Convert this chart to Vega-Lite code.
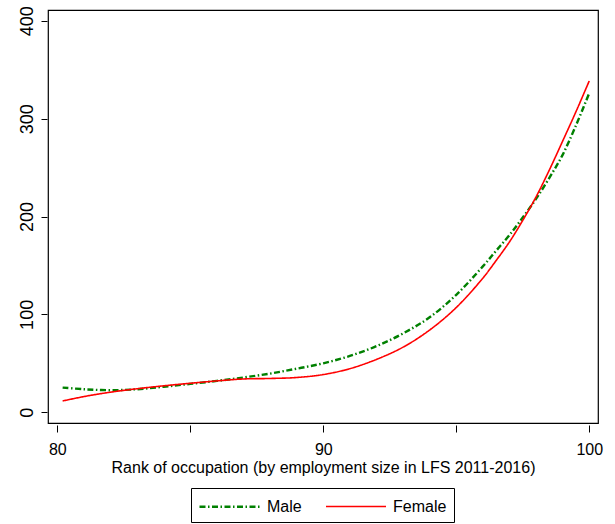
{
  "$schema": "https://vega.github.io/schema/vega-lite/v6.json",
  "width": 550,
  "height": 413,
  "autosize": {"type": "none"},
  "padding": {"left": 48, "top": 10, "right": 17, "bottom": 101},
  "background": "white",
  "config": {
    "font": "Liberation Sans",
    "view": {"stroke": "black", "strokeWidth": 1.2},
    "axis": {"grid": false, "domain": false, "tickColor": "black", "labelColor": "black", "titleColor": "black", "labelFont": "Liberation Sans", "titleFont": "Liberation Sans", "titleFontWeight": "normal"}
  },
  "data": {
    "values": [
      {"rank": 80.2, "value": 25.2, "sex": "Male"},
      {"rank": 81, "value": 23.5, "sex": "Male"},
      {"rank": 82, "value": 22.5, "sex": "Male"},
      {"rank": 83, "value": 23.5, "sex": "Male"},
      {"rank": 84, "value": 26, "sex": "Male"},
      {"rank": 85, "value": 29, "sex": "Male"},
      {"rank": 86, "value": 32, "sex": "Male"},
      {"rank": 87, "value": 35.5, "sex": "Male"},
      {"rank": 88, "value": 39.5, "sex": "Male"},
      {"rank": 89, "value": 44.5, "sex": "Male"},
      {"rank": 90, "value": 50, "sex": "Male"},
      {"rank": 91, "value": 57.5, "sex": "Male"},
      {"rank": 92, "value": 67.5, "sex": "Male"},
      {"rank": 93, "value": 80.5, "sex": "Male"},
      {"rank": 94, "value": 97, "sex": "Male"},
      {"rank": 95, "value": 120, "sex": "Male"},
      {"rank": 96, "value": 149, "sex": "Male"},
      {"rank": 96.5, "value": 165, "sex": "Male"},
      {"rank": 97, "value": 181, "sex": "Male"},
      {"rank": 97.5, "value": 199, "sex": "Male"},
      {"rank": 98, "value": 218, "sex": "Male"},
      {"rank": 98.5, "value": 239.5, "sex": "Male"},
      {"rank": 99, "value": 263, "sex": "Male"},
      {"rank": 99.5, "value": 293, "sex": "Male"},
      {"rank": 100, "value": 326, "sex": "Male"},
      {"rank": 80.2, "value": 11.5, "sex": "Female"},
      {"rank": 81, "value": 16, "sex": "Female"},
      {"rank": 82, "value": 20.5, "sex": "Female"},
      {"rank": 83, "value": 24, "sex": "Female"},
      {"rank": 84, "value": 27, "sex": "Female"},
      {"rank": 85, "value": 29.6, "sex": "Female"},
      {"rank": 86, "value": 32, "sex": "Female"},
      {"rank": 87, "value": 34, "sex": "Female"},
      {"rank": 88, "value": 34.5, "sex": "Female"},
      {"rank": 89, "value": 35.5, "sex": "Female"},
      {"rank": 90, "value": 38.5, "sex": "Female"},
      {"rank": 91, "value": 44.5, "sex": "Female"},
      {"rank": 92, "value": 54, "sex": "Female"},
      {"rank": 93, "value": 66.5, "sex": "Female"},
      {"rank": 94, "value": 84, "sex": "Female"},
      {"rank": 95, "value": 107, "sex": "Female"},
      {"rank": 96, "value": 137, "sex": "Female"},
      {"rank": 96.5, "value": 155, "sex": "Female"},
      {"rank": 97, "value": 174, "sex": "Female"},
      {"rank": 97.5, "value": 196, "sex": "Female"},
      {"rank": 98, "value": 220, "sex": "Female"},
      {"rank": 98.5, "value": 247.5, "sex": "Female"},
      {"rank": 99, "value": 277, "sex": "Female"},
      {"rank": 99.5, "value": 307, "sex": "Female"},
      {"rank": 100, "value": 338.5, "sex": "Female"}
    ]
  },
  "mark": {"type": "line", "interpolate": "catmull-rom", "clip": true},
  "encoding": {
    "x": {
      "field": "rank", "type": "quantitative",
      "scale": {"domain": [79.65, 100.33], "nice": false, "zero": false},
      "axis": {
        "title": "Rank of occupation (by employment size in LFS 2011-2016)",
        "values": [80, 85, 90, 95, 100],
        "labelExpr": "datum.value % 10 === 0 ? datum.label : ''",
        "offset": 2, "tickSize": 7, "labelPadding": 9, "labelFontSize": 16,
        "titleFontSize": 16, "titlePadding": 2, "labelFlush": false
      }
    },
    "y": {
      "field": "value", "type": "quantitative",
      "scale": {"domain": [-11, 411], "nice": false, "zero": false},
      "axis": {
        "title": null,
        "values": [0, 100, 200, 300, 400],
        "labelAngle": 270, "tickSize": 6, "offset": 1, "labelPadding": 5,
        "labelFontSize": 18, "labelFlush": false
      }
    },
    "color": {
      "field": "sex", "type": "nominal",
      "scale": {"domain": ["Male", "Female"], "range": ["#008000", "#ff0000"]},
      "legend": {
        "title": null, "orient": "none", "direction": "horizontal",
        "legendX": 143, "legendY": 478,
        "strokeColor": "black", "fillColor": "white", "padding": 7,
        "labelFontSize": 16, "labelColor": "black", "labelFont": "Liberation Sans",
        "symbolType": "M-1,0H5", "symbolSize": 400, "labelOffset": 46,
        "columnPadding": 20
      }
    },
    "strokeDash": {
      "field": "sex", "type": "nominal",
      "scale": {"domain": ["Male", "Female"], "range": [[6, 2.5, 1.5, 2.5], [1, 0]]}
    },
    "strokeWidth": {
      "field": "sex", "type": "nominal",
      "scale": {"domain": ["Male", "Female"], "range": [2.4, 1.6]}
    }
  }
}
